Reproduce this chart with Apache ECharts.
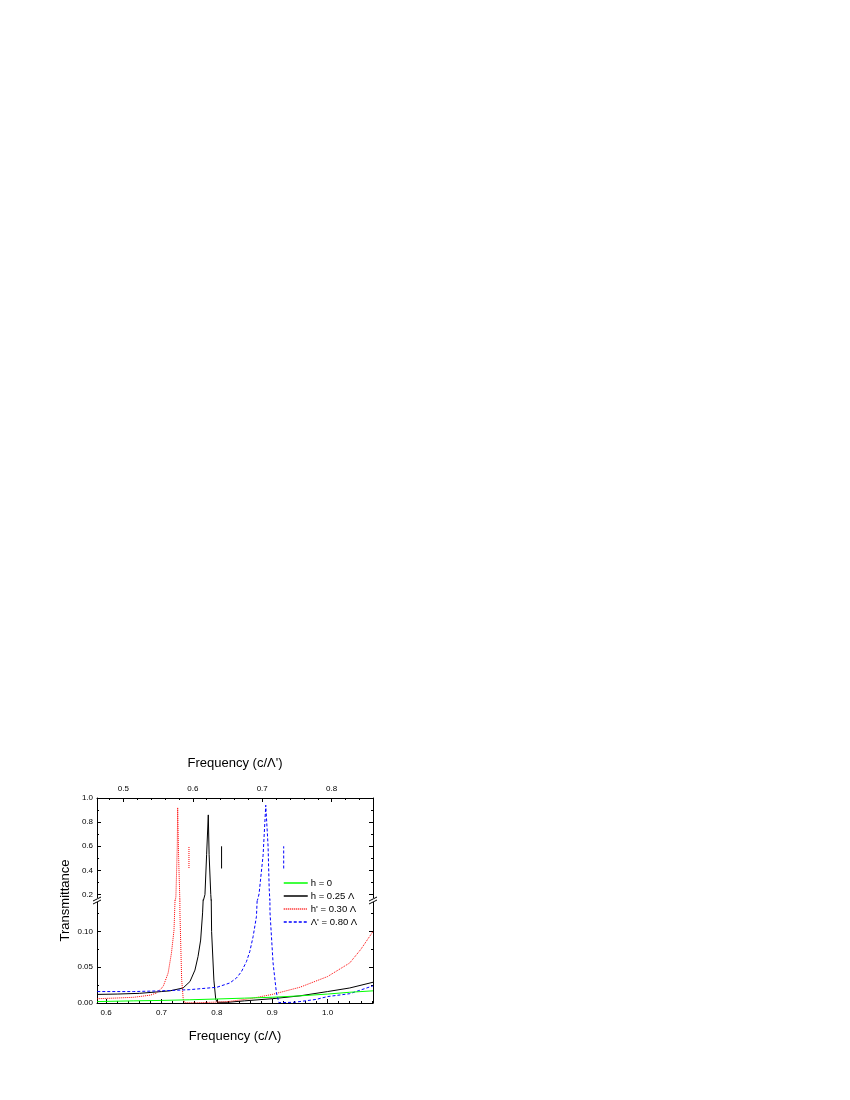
<!DOCTYPE html>
<html>
<head>
<meta charset="utf-8">
<script src="https://cdn.jsdelivr.net/npm/echarts@6/dist/echarts.min.js"></script>
<style>
  html, body { margin: 0; padding: 0; background: #fff; }
  #chart { width: 850px; height: 1100px; }
</style>
</head>
<body>
<div id="chart"></div>
<script>
// frequency in c/Λ, transmittance values
var h0Freq = [0.584, 0.65, 0.70, 0.75, 0.80, 0.85, 0.90, 0.95, 1.00, 1.04, 1.082];
var h0Trans = [0.002, 0.003, 0.0036, 0.0045, 0.0056, 0.0068, 0.008, 0.010, 0.0125, 0.015, 0.017];

var h25Freq = [0.584, 0.62, 0.66, 0.70, 0.7153, 0.739, 0.7514, 0.7604, 0.766, 0.7707, 0.7742, 0.7785, 0.7815, 0.7845,
  0.786, 0.789, 0.7905, 0.7946, 0.798, 0.801, 0.82, 0.85, 0.90, 0.95, 1.00, 1.04, 1.082];
var h25Trans = [0.012, 0.0125, 0.0135, 0.016, 0.017, 0.021, 0.030, 0.046, 0.065, 0.088, 0.126, 0.20, 0.53, 0.86,
  0.53, 0.20, 0.10, 0.032, 0.005, 0.001, 0.001, 0.003, 0.006, 0.010, 0.016, 0.021, 0.029];

var h30Freq = [0.584, 0.62, 0.65, 0.68, 0.691, 0.703, 0.712, 0.718, 0.7226, 0.726, 0.7285, 0.7292, 0.731, 0.7333,
  0.7364, 0.7393, 0.742, 0.76, 0.79, 0.82, 0.86, 0.90, 0.95, 1.00, 1.04, 1.06, 1.082];
var h30Trans = [0.006, 0.007, 0.008, 0.011, 0.014, 0.023, 0.042, 0.070, 0.102, 0.18, 0.60, 0.92, 0.50, 0.126,
  0.033, 0.005, 0.0005, 0.0003, 0.001, 0.002, 0.006, 0.012, 0.022, 0.037, 0.056, 0.075, 0.10];

var lam80Freq = [0.584, 0.65, 0.70, 0.75, 0.80, 0.8234, 0.8355, 0.8445, 0.8535, 0.8595, 0.8655, 0.8715, 0.8762,
  0.8835, 0.8883, 0.8925, 0.8945, 0.896, 0.9015, 0.9076, 0.912, 0.94, 0.979, 1.00, 1.04, 1.082];
var lam80Trans = [0.016, 0.016, 0.017, 0.0186, 0.022, 0.028, 0.035, 0.044, 0.058, 0.072, 0.093, 0.121, 0.205,
  0.526, 0.94, 0.60, 0.25, 0.126, 0.056, 0.014, 0.0005, 0.001, 0.005, 0.009, 0.013, 0.024];

// short vertical markers: red dotted, black solid, blue dashed
var markerFreq = [0.7496, 0.8085, 0.9207];
var markerLow = [0.42, 0.416, 0.416];
var markerHigh = [0.60, 0.60, 0.60];
var markerSeries = [2, 1, 3];

var seriesNames = ['h = 0', 'h = 0.25 \u039B', "h' = 0.30 \u039B", "\u039B' = 0.80 \u039B"];
var seriesColors = ['#00ff00', '#000000', '#ff0000', '#0000ff'];
var seriesDash = ['solid', 'solid', [1, 1], [3, 2]];

var bottomTicks = [0.6, 0.7, 0.8, 0.9, 1.0];
var topTicks = [0.5, 0.6, 0.7, 0.8];
var upperYTicks = [0.2, 0.4, 0.6, 0.8, 1.0];
var lowerYTicks = [0.00, 0.05, 0.10];

var FONT = '"Liberation Sans", Arial, Helvetica, sans-serif';
var G_LEFT = 97, G_W = 276, G_TOP = 798, G_MID = 900, G_BOT = 1003;

function steps(a, b, d, skip) {
  var out = [];
  for (var v = a; v <= b + 1e-9; v += d) {
    var r = Math.round(v * 1000) / 1000;
    if (skip.indexOf(r) < 0) out.push(r);
  }
  return out;
}

function pairs(xs, ys) {
  return xs.map(function (x, i) { return [x, ys[i]]; });
}

function tickAxis(o) {
  // one axis showing either major ticks (+labels) or minor ticks
  var ax = {
    type: 'value',
    gridIndex: o.grid,
    position: o.position,
    min: o.min,
    max: o.max,
    axisLine: { show: !!o.line, onZero: false, lineStyle: { color: '#000', width: 1 } },
    axisTick: { show: true, inside: true, length: o.len, customValues: o.ticks, lineStyle: { color: '#000', width: 1 } },
    axisLabel: o.labels ? {
      show: true, customValues: o.labels, fontSize: 8, fontFamily: FONT, color: '#000', margin: o.margin || 4,
      formatter: function (v) { return v.toFixed(o.digits); }
    } : { show: false },
    splitLine: { show: false }
  };
  if (o.name) {
    ax.name = o.name;
    ax.nameLocation = 'middle';
    ax.nameGap = o.nameGap;
    ax.nameTextStyle = { fontSize: 13, fontFamily: FONT, color: '#000' };
  }
  return ax;
}

var bMin = 0.5835, bMax = 1.082;
var tMin = 0.4621, tMax = 0.8595;
var uMin = 0.155, uMax = 1.0;
var lMin = 0, lMax = 0.144;

var xAxes = [
  { type: 'value', gridIndex: 0, min: bMin, max: bMax, show: false },
  tickAxis({ grid: 0, position: 'top', min: tMin, max: tMax, line: true, len: 4, ticks: topTicks, labels: topTicks, digits: 1,
    margin: 5, name: "Frequency (c/\u039B')", nameGap: 28 }),
  tickAxis({ grid: 0, position: 'top', min: tMin, max: tMax, len: 2, ticks: steps(0.48, 0.84, 0.02, topTicks) }),
  tickAxis({ grid: 1, position: 'bottom', min: bMin, max: bMax, line: true, len: 4, ticks: bottomTicks, labels: bottomTicks, digits: 1,
    margin: 6, name: 'Frequency (c/\u039B)', nameGap: 27 }),
  tickAxis({ grid: 1, position: 'bottom', min: bMin, max: bMax, len: 2, ticks: steps(0.60, 1.08, 0.02, bottomTicks) })
];

var yAxes = [
  tickAxis({ grid: 0, position: 'left', min: uMin, max: uMax, line: true, len: 4, ticks: upperYTicks, labels: upperYTicks, digits: 1 }),
  tickAxis({ grid: 0, position: 'left', min: uMin, max: uMax, len: 2, ticks: [0.3, 0.5, 0.7, 0.9] }),
  tickAxis({ grid: 0, position: 'right', min: uMin, max: uMax, line: true, len: 4, ticks: upperYTicks }),
  tickAxis({ grid: 0, position: 'right', min: uMin, max: uMax, len: 2, ticks: [0.3, 0.5, 0.7, 0.9] }),
  tickAxis({ grid: 1, position: 'left', min: lMin, max: lMax, line: true, len: 4, ticks: lowerYTicks, labels: lowerYTicks, digits: 2 }),
  tickAxis({ grid: 1, position: 'left', min: lMin, max: lMax, len: 2, ticks: [0.025, 0.075, 0.125] }),
  tickAxis({ grid: 1, position: 'right', min: lMin, max: lMax, line: true, len: 4, ticks: lowerYTicks }),
  tickAxis({ grid: 1, position: 'right', min: lMin, max: lMax, len: 2, ticks: [0.025, 0.075, 0.125] })
];

var curves = [
  pairs(h0Freq, h0Trans),
  pairs(h25Freq, h25Trans),
  pairs(h30Freq, h30Trans),
  pairs(lam80Freq, lam80Trans)
];

var series = [];
// upper panel (xAxis 0 / yAxis 0) and lower panel (xAxis 3 / yAxis 4)
[[0, 0], [3, 4]].forEach(function (ax) {
  curves.forEach(function (data, i) {
    series.push({
      name: seriesNames[i],
      type: 'line',
      xAxisIndex: ax[0],
      yAxisIndex: ax[1],
      data: data,
      symbol: 'none',
      showSymbol: false,
      clip: true,
      animation: false,
      z: i === 0 ? 3 : 2,
      itemStyle: { color: seriesColors[i] },
      lineStyle: { color: seriesColors[i], width: 1, type: seriesDash[i] }
    });
  });
});

markerFreq.forEach(function (f, i) {
  var k = markerSeries[i];
  series.push({
    type: 'line',
    xAxisIndex: 0,
    yAxisIndex: 0,
    data: [[f, markerLow[i]], [f, markerHigh[i]]],
    symbol: 'none',
    animation: false,
    silent: true,
    lineStyle: { color: seriesColors[k], width: 1, type: seriesDash[k] }
  });
});

// axis break marks on both sides
function breakMark(x) {
  return [
    { type: 'rect', shape: { x: x - 2, y: G_MID - 2, width: 4, height: 4 }, style: { fill: '#fff' }, z: 100 },
    { type: 'line', shape: { x1: x - 4, y1: G_MID + 1, x2: x + 4, y2: G_MID - 3 }, style: { stroke: '#000', lineWidth: 1 }, z: 101 },
    { type: 'line', shape: { x1: x - 4, y1: G_MID + 4, x2: x + 4, y2: G_MID }, style: { stroke: '#000', lineWidth: 1 }, z: 101 }
  ];
}

var chart = echarts.init(document.getElementById('chart'), null, { renderer: 'canvas' });
chart.setOption({
  backgroundColor: '#fff',
  animation: false,
  textStyle: { fontFamily: FONT },
  grid: [
    { left: G_LEFT, top: G_TOP, width: G_W, height: G_MID - G_TOP, containLabel: false },
    { left: G_LEFT, top: G_MID, width: G_W, height: G_BOT - G_MID, containLabel: false }
  ],
  xAxis: xAxes,
  yAxis: yAxes,
  legend: {
    data: seriesNames,
    orient: 'vertical',
    left: 283,
    top: 878,
    itemWidth: 24,
    itemHeight: 10,
    itemGap: 3,
    padding: 0,
    selectedMode: false,
    itemStyle: { color: 'rgba(0,0,0,0)', borderWidth: 0, opacity: 0 },
    lineStyle: { width: 1.5 },
    textStyle: { fontSize: 9.5, fontFamily: FONT, color: '#000', padding: [0, 0, 0, -2] }
  },
  graphic: breakMark(G_LEFT).concat(breakMark(G_LEFT + G_W)).concat([
    {
      type: 'text',
      x: 65,
      y: (G_TOP + G_BOT) / 2,
      rotation: Math.PI / 2,
      style: { text: 'Transmittance', font: '13px ' + FONT, fill: '#000', textAlign: 'center', textVerticalAlign: 'middle' }
    }
  ]),
  series: series
});
</script>
</body>
</html>
